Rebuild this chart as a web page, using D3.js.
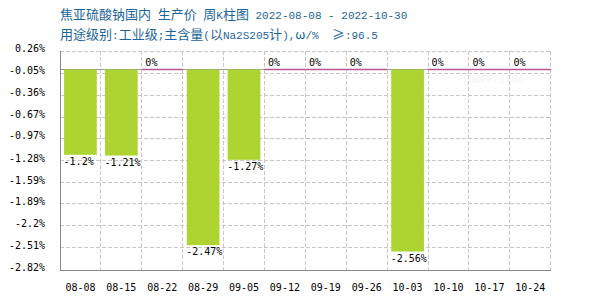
<!DOCTYPE html>
<html>
<head>
<meta charset="utf-8">
<script src="https://cdn.jsdelivr.net/npm/d3@7"></script>
<style>
  html, body { margin: 0; padding: 0; background: #fff; }
  svg { display: block; }
</style>
</head>
<body>
<div id="chart"></div>
<script>
// weekly change, %
const weeks = ["08-08", "08-15", "08-22", "08-29", "09-05", "09-12", "09-19", "09-26", "10-03", "10-10", "10-17", "10-24"];
const changes = [-1.2, -1.21, 0, -2.47, -1.27, 0, 0, 0, -2.56, 0, 0, 0];
const yTicks = [0.26, -0.05, -0.36, -0.67, -0.97, -1.28, -1.59, -1.89, -2.2, -2.51, -2.82];
const titleLine1 = "焦亚硫酸钠国内 生产价 周K柱图 2022-08-08 - 2022-10-30";
const titleLine2 = "用途级别:工业级;主含量(以Na2S205计),ω/%  ≥:96.5";

const width = 600, height = 300;
const margin = { top: 51, right: 49.3, bottom: 30, left: 60 };

const svg = d3.select("#chart").append("svg")
  .attr("width", width)
  .attr("height", height);

const x = d3.scaleBand()
  .domain(weeks)
  .range([margin.left, width - margin.right])
  .padding(0);

const y = d3.scaleLinear()
  .domain([d3.min(yTicks), d3.max(yTicks)])
  .range([height - margin.bottom, margin.top]);

const mono = "'DejaVu Sans Mono', monospace";

// title, mixed CJK / latin runs
function writeMixed(sel, str) {
  const runs = str.match(/[\x00-\x7f]+|[^\x00-\x7f]+/g);
  runs.forEach(r => {
    const ascii = /^[\x00-\x7f]+$/.test(r);
    sel.append("tspan")
      .attr("font-family", ascii ? "'Liberation Mono', monospace" : "'Noto Sans CJK SC', sans-serif")
      .attr("font-size", ascii ? 11 : 13)
      .attr("xml:space", "preserve")
      .text(r);
  });
}
const titles = svg.append("g").attr("fill", "#1c6499");
writeMixed(titles.append("text").attr("x", 60).attr("y", 19).attr("xml:space", "preserve"), titleLine1);
writeMixed(titles.append("text").attr("x", 60).attr("y", 39).attr("xml:space", "preserve"), titleLine2);

// faint watermark
svg.append("text")
  .attr("x", 462).attr("y", 83)
  .attr("font-family", "'DejaVu Sans', sans-serif")
  .attr("font-size", 10)
  .attr("fill", "#f3f3f3")
  .text("100PPI.COM");

// grid
const grid = svg.append("g")
  .attr("stroke", "#c8c8c8")
  .attr("stroke-dasharray", "4,2")
  .attr("shape-rendering", "crispEdges");

grid.selectAll(".hg")
  .data(yTicks.filter(t => t !== d3.min(yTicks)))
  .join("line")
  .attr("x1", margin.left).attr("x2", width - margin.right)
  .attr("y1", d => y(d)).attr("y2", d => y(d));

grid.selectAll(".vg")
  .data(weeks)
  .join("line")
  .attr("x1", d => x(d) + x.bandwidth()).attr("x2", d => x(d) + x.bandwidth())
  .attr("y1", margin.top).attr("y2", height - margin.bottom);

// zero line
svg.append("line")
  .attr("x1", margin.left).attr("x2", width - margin.right)
  .attr("y1", y(0)).attr("y2", y(0))
  .attr("stroke", "#999")
  .attr("shape-rendering", "crispEdges");

const barW = x.bandwidth() * 0.8;
const barX = d => x(d) + (x.bandwidth() - barW) / 2;
const data = weeks.map((w, i) => ({ w, v: changes[i] }));

// zero weeks drawn as a flat pink line
svg.selectAll(".flat")
  .data(data.filter(d => d.v === 0))
  .join("line")
  .attr("x1", d => x(d.w)).attr("x2", d => x(d.w) + x.bandwidth())
  .attr("y1", y(0)).attr("y2", y(0))
  .attr("stroke", "#b9588f")
  .attr("stroke-width", 1.5);

svg.selectAll(".bar")
  .data(data.filter(d => d.v !== 0))
  .join("rect")
  .attr("x", d => barX(d.w))
  .attr("y", d => y(Math.max(0, d.v)))
  .attr("width", barW)
  .attr("height", d => Math.abs(y(d.v) - y(0)))
  .attr("fill", "#aed432");

// value labels
svg.selectAll(".vlabel")
  .data(data)
  .join("text")
  .attr("x", d => barX(d.w) - 0.5)
  .attr("y", d => d.v < 0 ? y(d.v) + 10 : y(0) - 3)
  .attr("font-family", mono)
  .attr("font-size", 10)
  .attr("fill", "#000")
  .text(d => d.v + "%");

// axes
const axes = svg.append("g").attr("stroke", "#888").attr("shape-rendering", "crispEdges");
axes.append("line")
  .attr("x1", margin.left).attr("x2", margin.left)
  .attr("y1", margin.top).attr("y2", height - margin.bottom);
axes.append("line")
  .attr("x1", margin.left).attr("x2", width - margin.right)
  .attr("y1", height - margin.bottom).attr("y2", height - margin.bottom);

svg.append("g")
  .selectAll("text")
  .data(yTicks)
  .join("text")
  .attr("x", 45)
  .attr("y", d => y(d) + 1)
  .attr("text-anchor", "end")
  .attr("font-family", mono)
  .attr("font-size", 10)
  .text(d => d + "%");

svg.append("g")
  .selectAll("text")
  .data(weeks)
  .join("text")
  .attr("x", d => x(d) + x.bandwidth() / 2)
  .attr("y", 291)
  .attr("text-anchor", "middle")
  .attr("font-family", mono)
  .attr("font-size", 10)
  .text(d => d);
</script>
</body>
</html>
